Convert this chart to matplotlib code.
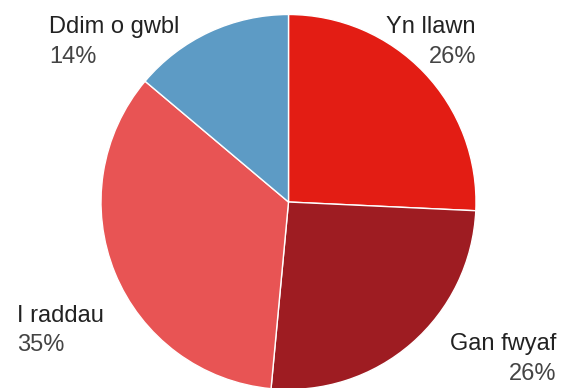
import matplotlib
matplotlib.use("Agg")
import matplotlib.pyplot as plt

# Share of answers, clockwise from 12 o'clock
labels = ["Yn llawn", "Gan fwyaf", "I raddau", "Ddim o gwbl"]
values = [26, 26, 35, 14]
colors = ["#e31d14", "#9e1c22", "#e85454", "#5d9bc5"]

# label anchor in pixels: (x, name baseline, pct baseline, alignment)
label_pos = [
    (476, 33, 63, "right"),
    (556, 350, 380, "right"),
    (17, 322, 351, "left"),
    (49, 33, 63, "left"),
]

W, H = 574, 388
cx, cy, r = 288.5, 202, 187.5

plt.rcParams["font.family"] = ["Liberation Sans", "DejaVu Sans"]
fig = plt.figure(figsize=(W / 100, H / 100), dpi=100)
ax = fig.add_axes([0, 0, 1, 1])
ax.pie(values, colors=colors, startangle=90, counterclock=False,
       radius=1, center=(0, 0),
       wedgeprops=dict(edgecolor="white", linewidth=1.0))
ax.set_aspect("auto")
ax.set_xlim(-cx / r, (W - cx) / r)
ax.set_ylim((cy - H) / r, cy / r)
ax.axis("off")

for name, v, (x, yb1, yb2, ha) in zip(labels, values, label_pos):
    fig.text(x / W, 1 - yb1 / H, name, ha=ha, va="baseline",
             fontsize=17, color="#222222")
    fig.text(x / W, 1 - yb2 / H, f"{v}%", ha=ha, va="baseline",
             fontsize=17, color="#444444")

fig.savefig("out.png", dpi=100)
